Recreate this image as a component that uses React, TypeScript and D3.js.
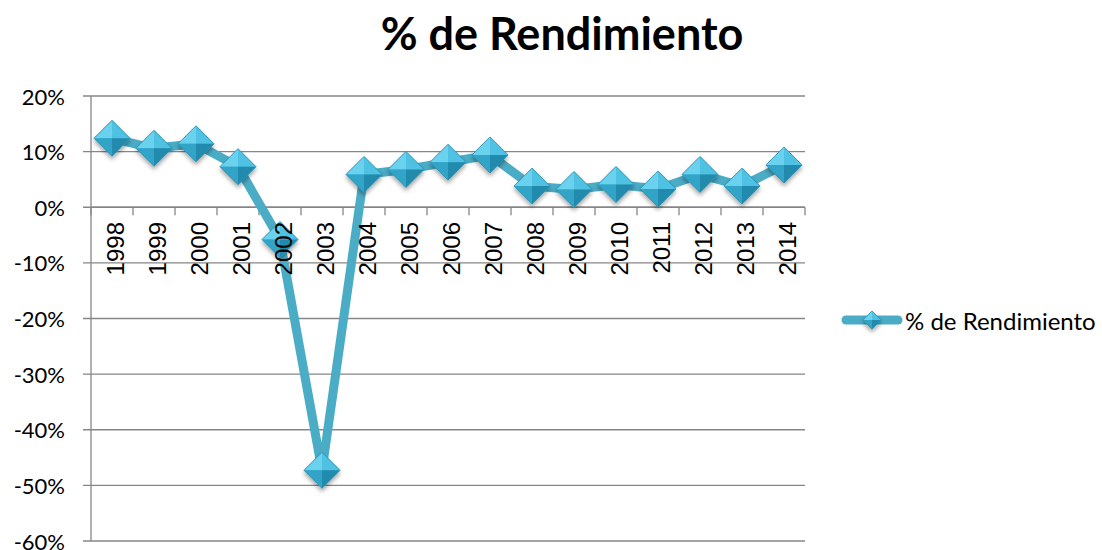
import React, { useRef, useEffect } from 'react';
import * as d3 from 'd3';

const years = ['1998', '1999', '2000', '2001', '2002', '2003', '2004', '2005', '2006', '2007',
  '2008', '2009', '2010', '2011', '2012', '2013', '2014'];
const rendimiento = [0.124, 0.106, 0.114, 0.073, -0.058, -0.473, 0.059, 0.068, 0.081, 0.094,
  0.038, 0.032, 0.041, 0.033, 0.059, 0.038, 0.076];
const yTicks = [0.2, 0.1, 0, -0.1, -0.2, -0.3, -0.4, -0.5, -0.6];

const title = '% de Rendimiento';
const seriesName = '% de Rendimiento';

const W = 1102;
const H = 550;
const lineColor = '#4BACC6';
const gridColor = '#868686';

const App = () => {
  const svgRef = useRef<SVGSVGElement | null>(null);

  useEffect(() => {
    document.body.style.margin = '0';
    if (!svgRef.current) return;
    const svg = d3.select(svgRef.current);
    svg.selectAll('*').remove();

    const x = d3.scaleBand().domain(years).range([91, 805]);
    const y = d3.scaleLinear().domain([-0.6, 0.2]).range([541, 96]);

    // drop shadow for markers
    const defs = svg.append('defs');
    const f = defs.append('filter').attr('id', 'shadow')
      .attr('x', '-50%').attr('y', '-50%').attr('width', '200%').attr('height', '200%');
    f.append('feDropShadow').attr('dx', 0).attr('dy', 3).attr('stdDeviation', 2)
      .attr('flood-color', '#000').attr('flood-opacity', 0.35);

    // title
    svg.append('text')
      .attr('x', 562).attr('y', 50)
      .attr('text-anchor', 'middle')
      .attr('font-family', 'Lato, sans-serif')
      .attr('font-weight', 'bold')
      .attr('font-size', '45px')
      .attr('fill', '#000')
      .text(title);

    // gridlines
    svg.append('g').selectAll('line')
      .data(yTicks)
      .enter().append('line')
      .attr('x1', 83).attr('x2', 805)
      .attr('y1', d => y(d)).attr('y2', d => y(d))
      .attr('stroke', gridColor).attr('stroke-width', 1.3);

    // y axis line
    svg.append('line')
      .attr('x1', 91).attr('x2', 91).attr('y1', y(0.2)).attr('y2', y(-0.6))
      .attr('stroke', gridColor).attr('stroke-width', 1.3);

    // y labels
    svg.append('g').selectAll('text')
      .data(yTicks)
      .enter().append('text')
      .attr('x', 65).attr('y', d => y(d))
      .attr('text-anchor', 'end')
      .attr('dominant-baseline', 'central')
      .attr('font-family', 'Lato, sans-serif')
      .attr('font-size', '22px')
      .attr('fill', '#000')
      .text(d => d3.format('.0%')(d).replace('−', '-'));

    // category axis at 0
    const y0 = y(0);
    svg.append('line')
      .attr('x1', 91).attr('x2', 805).attr('y1', y0).attr('y2', y0)
      .attr('stroke', gridColor).attr('stroke-width', 1.3);
    const bounds = years.map(d => x(d) as number).concat([805]);
    svg.append('g').selectAll('line')
      .data(bounds)
      .enter().append('line')
      .attr('x1', d => d).attr('x2', d => d)
      .attr('y1', y0).attr('y2', y0 + 8)
      .attr('stroke', gridColor).attr('stroke-width', 1.3);

    // series line
    const pts: [number, number][] = years.map((d, i) => [(x(d) as number) + x.bandwidth() / 2, y(rendimiento[i])]);
    svg.append('path')
      .attr('d', d3.line()(pts))
      .attr('fill', 'none')
      .attr('stroke', lineColor)
      .attr('stroke-width', 9)
      .attr('stroke-linejoin', 'round');

    const drawDiamond = (g: any, r: number) => {
      const faces: [string, string][] = [
        [`M${-r},0L0,${-r}L0,0Z`, '#6ad2ef'],
        [`M0,${-r}L${r},0L0,0Z`, '#4fc1e2'],
        [`M${-r},0L0,0L0,${r}Z`, '#30a4c8'],
        [`M0,0L${r},0L0,${r}Z`, '#238bad'],
      ];
      const inner = g.append('g').attr('filter', 'url(#shadow)');
      inner.append('path').attr('d', `M${-r},0L0,${-r}L${r},0L0,${r}Z`).attr('fill', '#3fb3d5');
      faces.forEach(([p, c]) => inner.append('path').attr('d', p).attr('fill', c));
      inner.append('path').attr('d', `M${-r},0L0,${-r}L${r},0L0,${r}Z`)
        .attr('fill', 'none').attr('stroke', '#2a8fae').attr('stroke-width', 0.8);
    };

    pts.forEach(([px, py]) => {
      const g = svg.append('g').attr('transform', `translate(${px},${py})`);
      drawDiamond(g, 18);
    });

    // category labels drawn on top of the series
    svg.append('g').selectAll('text')
      .data(years)
      .enter().append('text')
      .attr('transform', d => `translate(${(x(d) as number) + x.bandwidth() / 2 + 3},222) rotate(-90)`)
      .attr('text-anchor', 'end')
      .attr('dominant-baseline', 'central')
      .attr('font-family', '"Liberation Sans", Arial, sans-serif')
      .attr('font-size', '24px')
      .attr('fill', '#000')
      .text(d => d);

    // legend
    svg.append('line')
      .attr('x1', 846).attr('x2', 898).attr('y1', 320).attr('y2', 320)
      .attr('stroke', lineColor).attr('stroke-width', 9).attr('stroke-linecap', 'round');
    const lg = svg.append('g').attr('transform', 'translate(872,320)');
    drawDiamond(lg, 9);
    svg.append('text')
      .attr('x', 905).attr('y', 320)
      .attr('dominant-baseline', 'central')
      .attr('font-family', 'Lato, sans-serif')
      .attr('font-size', '24px')
      .attr('fill', '#000')
      .text(seriesName);
  }, []);

  return <svg ref={svgRef} width={W} height={H} style={{ display: 'block', background: '#fff' }} />;
};

export default App;
